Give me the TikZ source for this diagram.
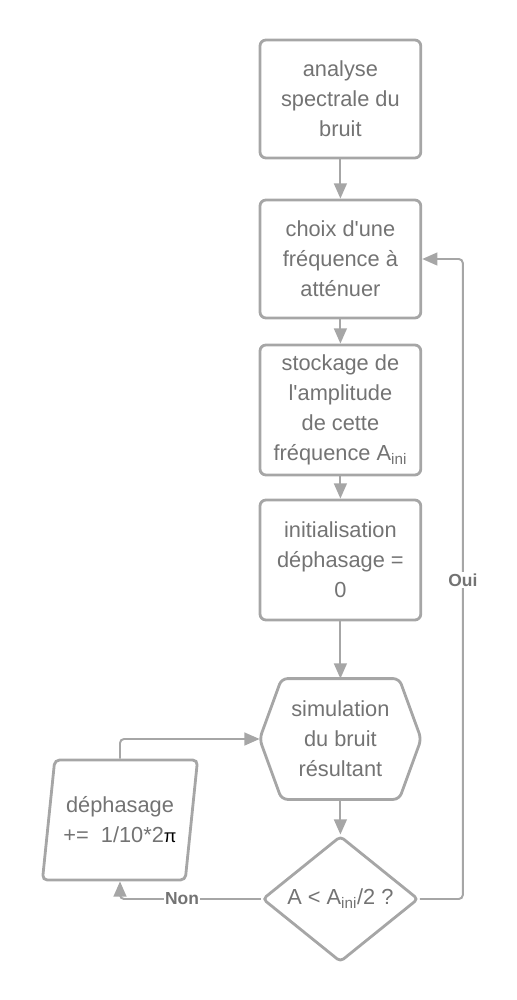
\documentclass[tikz,border=0pt]{standalone}
\usepackage{fontspec}
\setmainfont{Liberation Sans}
\usetikzlibrary{calc}
\usetikzlibrary{arrows.meta}
\usetikzlibrary{shapes.geometric}

\definecolor{linegray}{HTML}{A6A6A6}
\definecolor{textgray}{HTML}{737373}

\tikzset{
  box/.style={draw=linegray, line width=2pt, rounded corners=.15cm, text=textgray, align=center,
    font=\fontsize{15.5}{21.3}\selectfont, minimum width=4.02cm, inner sep=0pt},
  link/.style={draw=linegray, line width=1.4pt, -{Triangle[length=.38cm,width=.32cm]}, rounded corners=.1cm},
  answer/.style={fill=white, text=textgray, font=\bfseries\fontsize{12.4}{14}\selectfont, inner sep=1pt}
}

\begin{document}
\begin{tikzpicture}
\useasboundingbox (0,0) rectangle (12.9,-25);
\coordinate (O) at (8.51,0);

% main column
\node[box, minimum height=2.95cm] (spectre) at ($(O)+(0,-2.475)$) {analyse\\spectrale du\\bruit};
\node[box, minimum height=2.95cm] (choix) at ($(O)+(0,-6.475)$) {choix d\textquotesingle une\\fréquence à\\atténuer};
\node[box, minimum height=3.25cm] (stock) at ($(O)+(0,-10.25)$) {stockage de\\l\textquotesingle amplitude\\de cette\\fréquence A\textsubscript{ini}};
\node[box, minimum height=3cm] (init) at ($(O)+(0,-14)$) {initialisation\\déphasage =\\0};

% hexagon
\node[box, draw=none, minimum width=3.97cm, minimum height=2.95cm] (simu) at ($(O)+(0,-18.475)$) {simulation\\du bruit\\résultant};
\draw[draw=linegray, line width=2pt, rounded corners=.15cm] (simu.west) -- ($(simu.north west)+(.55,0)$)
  -- ($(simu.north east)+(-.55,0)$) -- (simu.east) -- ($(simu.south east)+(-.55,0)$)
  -- ($(simu.south west)+(.55,0)$) -- cycle;

% test and loop
\node[box, shape=diamond, minimum width=3.9cm, minimum height=2.85cm, rounded corners=.1cm] (test) at ($(O)+(0,-22.475)$) {A < A\textsubscript{ini}/2 ?};
\node[box, shape=trapezium, trapezium left angle=77, trapezium right angle=103, trapezium stretches=true,
  minimum width=3.9cm, minimum height=3cm, rounded corners=.12cm] (phase) at (3,-20.5) {déphasage\\+=~~1/10*2{\color{black}\fontsize{13}{21.3}\selectfont π}};

\draw[link] (spectre) -- (choix);
\draw[link] (choix) -- (stock);
\draw[link] (stock) -- (init);
\draw[link] (init) -- (simu);
\draw[link] (simu) -- (test);

\draw[link] (test.east) -- ++(1.075,0) coordinate (R) |- (choix.east);
\node[answer] (oui) at (R |- 0,-14.5) {Oui};
\draw[link] (test.west) -| (phase.center |- phase.south);
\node[answer] (non) at (4.55,-22.475) {Non};
\draw[link] (phase.center |- phase.north) |- (simu.west);

\end{tikzpicture}
\end{document}
